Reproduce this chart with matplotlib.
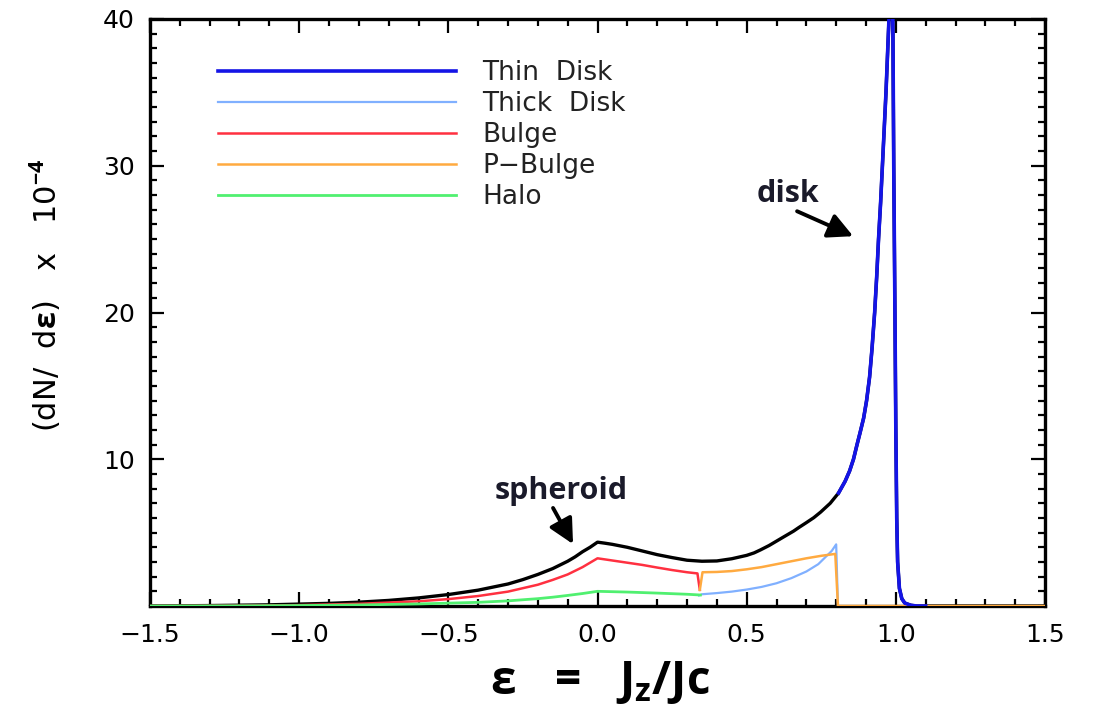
import matplotlib
matplotlib.use("Agg")
import matplotlib.pyplot as plt
from matplotlib.ticker import MultipleLocator

# ---- distribution of orbital circularity, dN/d(eps) x 1e-4 ----
total_x = [-1.5, -1.3, -1.1, -0.9, -0.8, -0.7, -0.6, -0.5, -0.4, -0.3, -0.25, -0.2,
           -0.15, -0.1, -0.075, -0.05, -0.025, 0.0, 0.025, 0.05, 0.075, 0.1, 0.15,
           0.2, 0.25, 0.3, 0.35, 0.4, 0.45, 0.5, 0.525, 0.546, 0.575, 0.6, 0.625,
           0.657, 0.675, 0.7, 0.725, 0.748, 0.78, 0.808, 0.83, 0.845, 0.858,
           0.87, 0.88, 0.892, 0.902, 0.912, 0.92, 0.929, 0.936, 0.942, 0.949,
           0.955, 0.961, 0.967, 0.972, 0.977, 0.983, 0.99, 0.993, 0.997, 1.0,
           1.003, 1.006, 1.012, 1.02, 1.03, 1.05, 1.07, 1.5]
total_y = [0.0, 0.03, 0.08, 0.18, 0.26, 0.38, 0.55, 0.78, 1.08, 1.5, 1.8, 2.15,
           2.55, 3.05, 3.35, 3.7, 4.0, 4.35, 4.28, 4.2, 4.1, 4.0, 3.75,
           3.5, 3.3, 3.12, 3.05, 3.07, 3.22, 3.45, 3.62, 3.82, 4.12, 4.42, 4.72,
           5.1, 5.35, 5.68, 6.02, 6.4, 7.0, 7.7, 8.5, 9.2, 10.0,
           11.0, 11.8, 12.8, 14.0, 15.6, 17.5, 20.0, 22.5, 25.0, 27.5,
           30.0, 32.5, 35.0, 37.5, 40.0, 42.0, 40.0, 30.0, 20.0, 12.0,
           6.0, 3.0, 1.2, 0.5, 0.2, 0.05, 0.0, 0.0]

thin_x = [0.808, 0.83, 0.845, 0.858, 0.87, 0.88, 0.892, 0.902, 0.912, 0.92,
          0.929, 0.936, 0.942, 0.949, 0.955, 0.961, 0.967, 0.972, 0.977, 0.983,
          0.99, 0.993, 0.997, 1.0, 1.003, 1.006, 1.012, 1.02, 1.03, 1.05, 1.07,
          1.1]
thin_y = [7.7, 8.5, 9.2, 10.0, 11.0, 11.8, 12.8, 14.0, 15.6, 17.5,
          20.0, 22.5, 25.0, 27.5, 30.0, 32.5, 35.0, 37.5, 40.0, 42.0,
          40.0, 30.0, 20.0, 12.0, 6.0, 3.0, 1.2, 0.5, 0.2, 0.05, 0.0,
          0.0]

thick_x = [0.34, 0.345, 0.35, 0.4, 0.45, 0.5, 0.55, 0.6, 0.65, 0.7, 0.74, 0.775,
           0.785, 0.795, 0.8, 0.806]
thick_y = [0.72, 0.75, 0.8, 0.88, 0.98, 1.12, 1.3, 1.55, 1.9, 2.35, 2.85, 3.55,
           3.75, 4.05, 4.2, 0.0]

bulge_x = [-1.5, -1.2, -1.0, -0.8, -0.6, -0.5, -0.4, -0.3, -0.2, -0.15, -0.1,
           -0.075, -0.05, -0.025, 0.0, 0.05, 0.1, 0.15, 0.2, 0.25, 0.3, 0.335,
           0.343]
bulge_y = [0.0, 0.02, 0.06, 0.15, 0.32, 0.47, 0.68, 0.98, 1.45, 1.78, 2.15,
           2.4, 2.65, 2.95, 3.25, 3.1, 2.95, 2.8, 2.62, 2.45, 2.3, 2.22, 1.1]

pbulge_x = [0.343, 0.352, 0.4, 0.45, 0.5, 0.55, 0.6, 0.65, 0.7, 0.75, 0.797,
            0.806, 1.5]
pbulge_y = [1.1, 2.3, 2.32, 2.38, 2.5, 2.65, 2.85, 3.05, 3.25, 3.42, 3.55,
            0.0, 0.0]

halo_x = [-1.5, -1.2, -1.0, -0.8, -0.6, -0.4, -0.3, -0.2, -0.15, -0.1, -0.05,
          0.0, 0.1, 0.2, 0.3, 0.345]
halo_y = [0.0, 0.01, 0.03, 0.07, 0.14, 0.25, 0.35, 0.5, 0.6, 0.72, 0.85,
          1.0, 0.95, 0.88, 0.8, 0.75]

labels = ["Thin  Disk", "Thick  Disk", "Bulge", "P\u2212Bulge", "Halo"]

plt.rcParams["font.family"] = ["DejaVu Sans"]
plt.rcParams["mathtext.fontset"] = "custom"
plt.rcParams["mathtext.rm"] = "Open Sans:bold"
plt.rcParams["mathtext.it"] = "Open Sans:bold"
plt.rcParams["mathtext.bf"] = "Open Sans:bold"
plt.rcParams["mathtext.fallback"] = "stixsans"

fig = plt.figure(figsize=(10.96, 7.17), dpi=100)
ax = fig.add_axes([150 / 1096, 1 - 606 / 717, 895 / 1096, 587 / 717])

ax.plot(total_x, total_y, color="black", lw=2.4, zorder=2)
ax.plot(thick_x, thick_y, color="#80b0ff", lw=1.6, zorder=3, label=labels[1])
ax.plot(bulge_x, bulge_y, color="#ff3040", lw=1.8, zorder=3, label=labels[2])
ax.plot(pbulge_x, pbulge_y, color="#ffaa40", lw=1.8, zorder=4, label=labels[3])
ax.plot(halo_x, halo_y, color="#50f070", lw=2.0, zorder=5, label=labels[4])
ax.plot(thin_x, thin_y, color="#1414e6", lw=2.6, zorder=6, label=labels[0])

ax.set_xlim(-1.5, 1.5)
ax.set_ylim(0, 40)
ax.set_xticks([-1.5, -1.0, -0.5, 0.0, 0.5, 1.0, 1.5])
ax.set_xticklabels(["\u22121.5", "\u22121.0", "\u22120.5", "0.0", "0.5", "1.0", "1.5"])
ax.set_yticks([10, 20, 30, 40])
ax.xaxis.set_minor_locator(MultipleLocator(0.1))
ax.yaxis.set_minor_locator(MultipleLocator(1))
ax.tick_params(which="both", direction="in", top=True, right=True, width=1.6,
               colors="black", labelsize=18)
ax.tick_params(which="major", length=10)
ax.tick_params(which="minor", length=5)
ax.tick_params(axis="x", pad=12)
ax.tick_params(axis="y", pad=11)
for sp in ax.spines.values():
    sp.set_linewidth(2.4)

# legend in the order Thin, Thick, Bulge, P-Bulge, Halo
handles, labs = ax.get_legend_handles_labels()
order = [labs.index(l) for l in labels]
leg = ax.legend([handles[i] for i in order], [labs[i] for i in order],
                loc="upper left", bbox_to_anchor=(218 / 1096, 1 - 60 / 717),
                bbox_transform=fig.transFigure, frameon=False, fontsize=19,
                handlelength=9.0, handletextpad=1.0, labelspacing=0.19,
                borderpad=0, borderaxespad=0)
for t in leg.get_texts():
    t.set_color("#222222")

ax.set_ylabel(r"(dN/  d$\epsilon$)   x   10$^{-4}$", fontsize=22,
              family="DejaVu Sans")
ax.yaxis.set_label_coords(-0.097, 0.53)
fig.text(600 / 1096, 1 - 683 / 717, r"$\varepsilon\ \ =\ \ J_z/Jc$", fontsize=33,
         ha="center", va="center")

# labelled arrows
arrow_kw = dict(arrowstyle="-|>,head_length=0.75,head_width=0.38",
                color="black", lw=2.8, shrinkA=0, shrinkB=0, mutation_scale=20)
ax.text(0.64, 28.1, "disk", fontsize=22, fontweight="bold", family="Open Sans",
        ha="center", va="center", color="#1a1a2a")
ax.annotate("", xy=(0.857, 25.2), xytext=(0.669, 26.9), arrowprops=arrow_kw)
ax.text(-0.121, 7.83, "spheroid", fontsize=22, fontweight="bold",
        family="Open Sans", ha="center", va="center", color="#1a1a2a")
ax.annotate("", xy=(-0.082, 4.22), xytext=(-0.149, 6.68), arrowprops=arrow_kw)

fig.savefig("out.png", dpi=100)
